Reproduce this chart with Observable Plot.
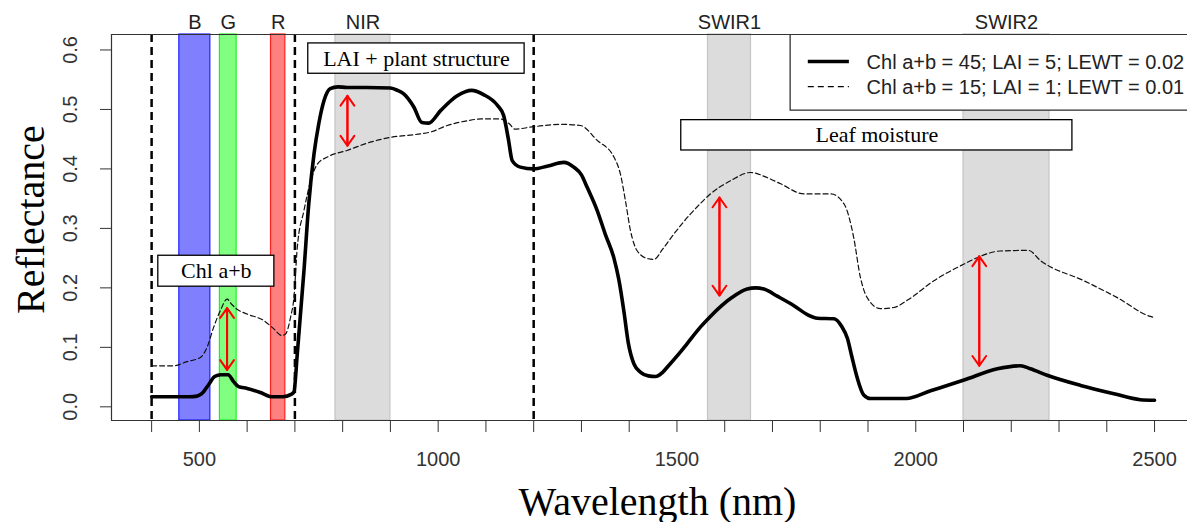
<!DOCTYPE html>
<html>
<head>
<meta charset="utf-8">
<script src="https://cdn.jsdelivr.net/npm/d3@7"></script>
<script src="https://cdn.jsdelivr.net/npm/@observablehq/plot@0.6"></script>
<style>
html, body { margin: 0; padding: 0; background: #fff; }
#chart svg { display: block; }
</style>
</head>
<body>
<div id="chart"></div>
<script>
// ---- Data ----
const solidNm = [400, 480, 495, 505, 520, 532, 545, 560, 572, 582, 600, 628, 652, 675, 692, 698,
  705, 719, 729, 740, 750, 761, 774, 790, 809, 850, 900, 915, 928, 949, 966, 980, 1005, 1040, 1070,
  1095, 1124, 1137, 1147, 1155, 1172, 1200, 1230, 1263, 1284, 1300, 1312, 1333, 1350, 1368, 1378,
  1389, 1398, 1410, 1424, 1440, 1455, 1470, 1480, 1507, 1521, 1549, 1570, 1612, 1647, 1665, 1682,
  1710, 1745, 1773, 1794, 1829, 1845, 1857, 1866, 1877, 1891, 1905, 1980, 2031, 2101, 2171, 2219,
  2240, 2275, 2345, 2415, 2470, 2500];
const solidRefl = [0.017, 0.017, 0.018, 0.022, 0.038, 0.051, 0.054, 0.054, 0.042, 0.034, 0.031, 0.024,
  0.017, 0.017, 0.021, 0.025, 0.089, 0.229, 0.341, 0.425, 0.476, 0.515, 0.535, 0.538, 0.537, 0.537,
  0.536, 0.532, 0.526, 0.504, 0.478, 0.477, 0.498, 0.523, 0.532, 0.525, 0.507, 0.490, 0.450, 0.414,
  0.403, 0.400, 0.405, 0.411, 0.403, 0.390, 0.369, 0.330, 0.290, 0.250, 0.215, 0.160, 0.108, 0.072,
  0.058, 0.052, 0.051, 0.058, 0.067, 0.092, 0.106, 0.134, 0.152, 0.182, 0.198, 0.200, 0.198, 0.186,
  0.170, 0.155, 0.149, 0.148, 0.135, 0.115, 0.085, 0.050, 0.020, 0.014, 0.014, 0.027, 0.045, 0.064,
  0.069, 0.064, 0.053, 0.036, 0.022, 0.012, 0.011];

const dashedNm = [400, 445, 474, 502, 516, 530, 544, 558, 568, 579, 600, 635, 656, 672, 680, 691, 698,
  705, 719, 733, 747, 768, 809, 858, 900, 963, 984, 1019, 1061, 1090, 1130, 1150, 1160, 1200, 1256,
  1298, 1333, 1368, 1382, 1392, 1403, 1417, 1440, 1452, 1470, 1494, 1528, 1542, 1570, 1612, 1654,
  1690, 1717, 1766, 1822, 1850, 1870, 1884, 1898, 1926, 1954, 1982, 2038, 2101, 2135, 2177, 2236,
  2261, 2352, 2421, 2491, 2500];
const dashedRefl = [0.069, 0.069, 0.076, 0.083, 0.100, 0.134, 0.162, 0.181, 0.172, 0.164, 0.156, 0.145,
  0.131, 0.120, 0.122, 0.151, 0.184, 0.268, 0.330, 0.380, 0.408, 0.420, 0.431, 0.445, 0.453, 0.459,
  0.462, 0.473, 0.481, 0.484, 0.484, 0.475, 0.467, 0.471, 0.475, 0.473, 0.448, 0.420, 0.390, 0.347,
  0.295, 0.262, 0.249, 0.248, 0.265, 0.291, 0.324, 0.336, 0.358, 0.380, 0.394, 0.385, 0.375, 0.358,
  0.358, 0.341, 0.285, 0.218, 0.184, 0.165, 0.167, 0.179, 0.212, 0.240, 0.253, 0.262, 0.263, 0.246,
  0.212, 0.184, 0.152, 0.150];

const bandNames  = ["B", "G", "R", "NIR", "SWIR1", "SWIR2"];
const bandStart  = [458, 543, 650, 785, 1565, 2100];
const bandEnd    = [523, 578, 680, 900, 1655, 2280];
const bandFill   = ["#8080ff", "#80ff80", "#ff8080", "#dcdcdc", "#dcdcdc", "#dcdcdc"];
const bandStroke = ["#2020ff", "#20f020", "#ff2020", "#c4c4c4", "#c4c4c4", "#c4c4c4"];

const dividerNm = [400, 700, 1200];

const xTicks = [400, 500, 600, 700, 800, 900, 1000, 1100, 1200, 1300, 1400, 1500, 1600, 1700, 1800,
  1900, 2000, 2100, 2200, 2300, 2400, 2500];
const xTickLabels = [500, 1000, 1500, 2000, 2500];
const yTicks = [0, 0.1, 0.2, 0.3, 0.4, 0.5, 0.6];

const boxLabels = ["LAI + plant structure", "Chl a+b", "Leaf moisture"];
const boxX1 = [728, 414, 1509];
const boxX2 = [1181, 657, 2328];
const boxY1 = [0.560, 0.202, 0.431];
const boxY2 = [0.611, 0.254, 0.482];

const arrowNm   = [558, 810, 1589, 2133];
const arrowLow  = [0.062, 0.439, 0.187, 0.069];
const arrowHigh = [0.166, 0.523, 0.352, 0.253];

const legendLabels = ["Chl a+b = 45; LAI = 5; LEWT = 0.02", "Chl a+b = 15; LAI = 1; LEWT = 0.01"];
const legendY = [0.5805, 0.5385];
const legendBox = {x1: 1738, x2: 2700, y1: 0.498, y2: 0.626};
const legendLine = {x1: 1775, x2: 1861, textX: 1897};

const xDomain = [316, 2569];
const yDomain = [-0.023, 0.626];

// ---- Tables built from the arrays ----
const solid = solidNm.map((nm, i) => ({nm, r: solidRefl[i]}));
const dashed = dashedNm.map((nm, i) => ({nm, r: dashedRefl[i]}));
const bands = bandNames.map((name, i) => ({name, start: bandStart[i], end: bandEnd[i], fill: bandFill[i], stroke: bandStroke[i]}));
const boxes = boxLabels.map((label, i) => ({label, x1: boxX1[i], x2: boxX2[i], y1: boxY1[i], y2: boxY2[i]}));
const arrows = arrowNm.map((nm, i) => ({nm, lo: arrowLow[i], hi: arrowHigh[i]}));
const legend = legendLabels.map((label, i) => ({label, y: legendY[i], dash: i === 1}));

const serif = "'Liberation Serif', 'Times New Roman', serif";
const sans = "'Liberation Sans', Arial, sans-serif";

const chart = Plot.plot({
  width: 1187,
  height: 522,
  marginLeft: 111,
  marginRight: 0,
  marginTop: 34,
  marginBottom: 102,
  x: {domain: xDomain},
  y: {domain: yDomain},
  color: {type: "identity"},
  style: {fontFamily: sans, background: "white", color: "#222"},
  marks: [
    Plot.rect(bands, {x1: "start", x2: "end", fill: "fill", stroke: "stroke", strokeWidth: 1.2}),
    Plot.ruleX(dividerNm, {stroke: "black", strokeWidth: 2.5, strokeDasharray: "8,5"}),
    Plot.line(dashed, {x: "nm", y: "r", stroke: "#111", strokeWidth: 1.2, strokeDasharray: "5,3", curve: "monotone-x"}),
    Plot.line(solid, {x: "nm", y: "r", stroke: "black", strokeWidth: 3.6, curve: "monotone-x"}),
    Plot.arrow(arrows, {x1: "nm", x2: "nm", y1: "lo", y2: "hi", stroke: "red", strokeWidth: 2, headLength: 9, headAngle: 70}),
    Plot.arrow(arrows, {x1: "nm", x2: "nm", y1: "hi", y2: "lo", stroke: "red", strokeWidth: 2, headLength: 9, headAngle: 70}),
    Plot.rect(boxes, {x1: "x1", x2: "x2", y1: "y1", y2: "y2", fill: "white", stroke: "black", strokeWidth: 1.3}),
    Plot.text(boxes, {x: d => (d.x1 + d.x2) / 2, y: d => (d.y1 + d.y2) / 2, text: "label", fontFamily: serif, fontSize: 22, fill: "black"}),
    // legend
    Plot.rect([legendBox], {x1: "x1", x2: "x2", y1: "y1", y2: "y2", fill: "white", stroke: "#222", strokeWidth: 1.2, clip: true}),
    Plot.ruleY(legend.filter(d => !d.dash), {y: "y", x1: legendLine.x1, x2: legendLine.x2, stroke: "black", strokeWidth: 3.6}),
    Plot.ruleY(legend.filter(d => d.dash), {y: "y", x1: legendLine.x1, x2: legendLine.x2, stroke: "black", strokeWidth: 1.2, strokeDasharray: "6,4"}),
    Plot.text(legend, {x: legendLine.textX, y: "y", text: "label", textAnchor: "start", fontSize: 20, dy: 1.5, fill: "#222"}),
    // frame (top, bottom, left)
    Plot.ruleY([yDomain[1]], {stroke: "#333", strokeWidth: 1.2}),
    Plot.ruleY([yDomain[0]], {stroke: "#333", strokeWidth: 1.2}),
    Plot.ruleX([xDomain[0]], {stroke: "#333", strokeWidth: 1.2}),
    // axes
    Plot.axisX({ticks: xTicks, tickFormat: d => xTickLabels.includes(d) ? String(d) : "", tickSize: 12, tickPadding: 19, fontSize: 20, label: null, color: "#333"}),
    Plot.axisY({ticks: yTicks, tickFormat: d => d.toFixed(1), tickSize: 11, tickPadding: 24, tickRotate: -90, fontSize: 20, label: null, color: "#333"}),
    // band names above frame
    Plot.text(bands, {x: d => (d.start + d.end) / 2, text: "name", frameAnchor: "top", lineAnchor: "bottom", dy: -6, fontSize: 20, fill: "#222"}),
    // axis titles
    Plot.text(["Reflectance"], {text: d => d, frameAnchor: "left", textAnchor: "middle", rotate: -90, lineAnchor: "bottom", dx: -68, dy: -8, fontSize: 40, fontFamily: serif, fill: "black"}),
    Plot.text(["Wavelength (nm)"], {text: d => d, frameAnchor: "bottom", textAnchor: "middle", lineAnchor: "bottom", dx: 8, dy: 94, fontSize: 40, fontFamily: serif, fill: "black"})
  ]
});
document.getElementById("chart").appendChild(chart);
</script>
</body>
</html>
